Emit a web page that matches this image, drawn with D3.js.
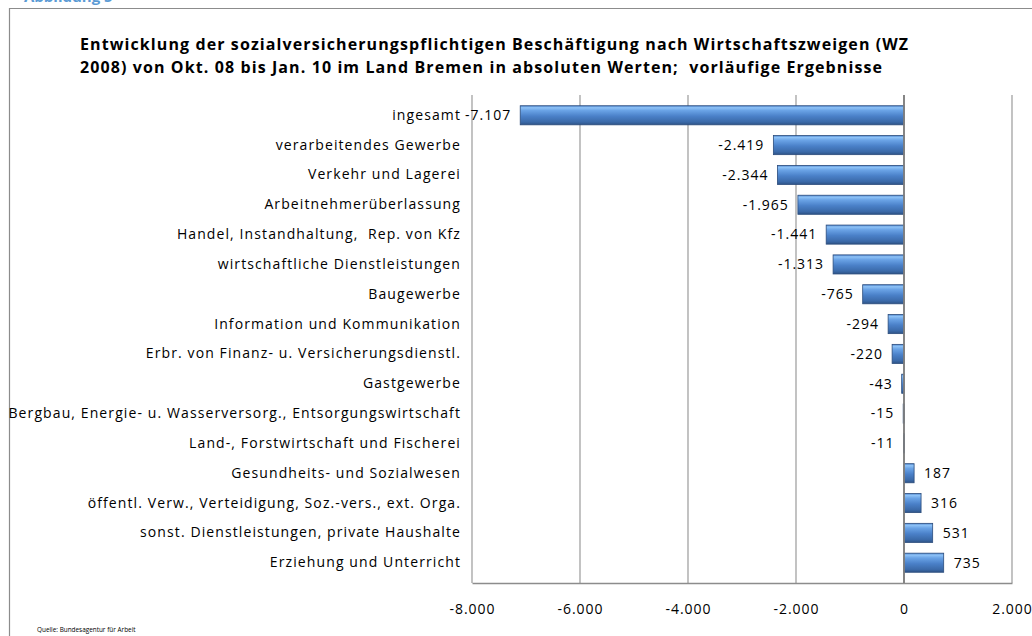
<!DOCTYPE html>
<html>
<head>
<meta charset="utf-8">
<script src="https://cdn.jsdelivr.net/npm/d3@7"></script>
<style>
  body { margin: 0; background: #fff; }
  svg { display: block; font-family: "Open Sans", Lato, sans-serif; }
  text { white-space: pre; }
</style>
</head>
<body>
<svg id="chart"></svg>
<script>
// data
var categories = [
  "ingesamt",
  "verarbeitendes Gewerbe",
  "Verkehr und Lagerei",
  "Arbeitnehmerüberlassung",
  "Handel, Instandhaltung,  Rep. von Kfz",
  "wirtschaftliche Dienstleistungen",
  "Baugewerbe",
  "Information und Kommunikation",
  "Erbr. von Finanz- u. Versicherungsdienstl.",
  "Gastgewerbe",
  "Bergbau, Energie- u. Wasserversorg., Entsorgungswirtschaft",
  "Land-, Forstwirtschaft und Fischerei",
  "Gesundheits- und Sozialwesen",
  "öffentl. Verw., Verteidigung, Soz.-vers., ext. Orga.",
  "sonst. Dienstleistungen, private Haushalte",
  "Erziehung und Unterricht"
];
var values = [-7107, -2419, -2344, -1965, -1441, -1313, -765, -294, -220, -43, -15, -11, 187, 316, 531, 735];
var xDomain = [-8000, 2000];
var titleLines = [
  "Entwicklung der sozialversicherungspflichtigen Beschäftigung nach Wirtschaftszweigen (WZ",
  "2008) von Okt. 08 bis Jan. 10 im Land Bremen in absoluten Werten;  vorläufige Ergebnisse"
];

var W = 1032, H = 636;
var plot = {left: 472, right: 1012, top: 95, bottom: 583};

var de = d3.formatLocale({decimal: ",", thousands: ".", grouping: [3], currency: ["", " €"], minus: "-"});
var fmt = de.format(",d");

var svg = d3.select("#chart").attr("width", W).attr("height", H);

// gradient for the bevelled excel bars
var defs = svg.append("defs");
var grad = defs.append("linearGradient")
  .attr("id", "barGrad")
  .attr("x1", 0).attr("y1", 0).attr("x2", 0).attr("y2", 1);
[[0, "#4f86cf"], [0.1, "#8ec2f6"], [0.25, "#6aa3e6"], [0.55, "#4a80c8"], [0.85, "#3b6aa9"], [1, "#2e5386"]]
  .forEach(function(s) { grad.append("stop").attr("offset", s[0]).attr("stop-color", s[1]); });

// blue heading cut off at the very top
svg.append("text")
  .attr("x", 24).attr("y", 2)
  .style("font-size", "15px").style("font-weight", "bold")
  .attr("fill", "#5b9bd5")
  .text("Abbildung 5");

// outer chart frame (runs off the right and bottom)
svg.append("path")
  .attr("d", "M9.5," + (H + 5) + " V8.5 H" + (W + 5))
  .attr("fill", "none")
  .attr("stroke", "#8c8c8c")
  .attr("stroke-width", 1.2);

// title
svg.append("g").selectAll("text")
  .data(titleLines)
  .enter().append("text")
  .attr("x", 80)
  .attr("y", function(d, i) { return 50 + i * 23; })
  .style("font-size", "16px")
  .style("font-weight", "bold")
  .style("letter-spacing", "1.1px")
  .attr("fill", "#000")
  .text(function(d) { return d; });

var x = d3.scaleLinear().domain(xDomain).range([plot.left, plot.right]);
var y = d3.scaleBand().domain(categories).range([plot.top, plot.bottom]).padding(0.36);

// vertical gridlines
svg.append("g")
  .selectAll("line")
  .data(x.ticks(5))
  .enter().append("line")
  .attr("x1", function(d) { return x(d); })
  .attr("x2", function(d) { return x(d); })
  .attr("y1", plot.top).attr("y2", plot.bottom)
  .attr("stroke", "#9a9a9a")
  .attr("stroke-width", 1.2);

var labelFont = "'Open Sans', Lato, sans-serif";

// x axis
var xAxis = svg.append("g")
  .attr("transform", "translate(0," + plot.bottom + ")")
  .call(d3.axisBottom(x).ticks(5).tickSize(0).tickPadding(21).tickFormat(fmt));
xAxis.select(".domain").attr("stroke", "#8c8c8c").attr("stroke-width", 1.5);
xAxis.selectAll("text")
  .style("font-size", "14px")
  .style("font-family", labelFont)
  .style("letter-spacing", "1px")
  .attr("fill", "#000");

// category labels
var yAxis = svg.append("g")
  .attr("transform", "translate(" + plot.left + ",0)")
  .call(d3.axisLeft(y).tickSize(0).tickPadding(11));
yAxis.select(".domain").remove();
yAxis.selectAll("text")
  .style("font-size", "14px")
  .style("font-family", labelFont)
  .style("letter-spacing", "1.1px")
  .attr("fill", "#000");

// bars
var rows = categories.map(function(c, i) { return {cat: c, val: values[i]}; });

svg.append("g")
  .selectAll("rect")
  .data(rows)
  .enter().append("rect")
  .attr("x", function(d) { return x(Math.min(0, d.val)); })
  .attr("y", function(d) { return y(d.cat); })
  .attr("width", function(d) { return Math.max(1, Math.abs(x(d.val) - x(0))); })
  .attr("height", y.bandwidth())
  .attr("fill", "url(#barGrad)")
  .attr("stroke", "#2b4c7c")
  .attr("stroke-width", 0.8);

// zero axis line
svg.append("line")
  .attr("x1", x(0)).attr("x2", x(0))
  .attr("y1", plot.top).attr("y2", plot.bottom)
  .attr("stroke", "#7f7f7f")
  .attr("stroke-width", 1.8);

// value labels
svg.append("g")
  .selectAll("text")
  .data(rows)
  .enter().append("text")
  .attr("x", function(d) { return d.val < 0 ? x(d.val) - 9 : x(d.val) + 10; })
  .attr("y", function(d) { return y(d.cat) + y.bandwidth() / 2; })
  .attr("dy", "0.35em")
  .attr("text-anchor", function(d) { return d.val < 0 ? "end" : "start"; })
  .style("font-size", "14px")
  .style("letter-spacing", "1px")
  .attr("fill", "#000")
  .text(function(d) { return fmt(d.val); });

// source note
svg.append("text")
  .attr("x", 37).attr("y", 632)
  .style("font-size", "6.4px")
  .attr("fill", "#000")
  .text("Quelle: Bundesagentur für Arbeit");
</script>
</body>
</html>
